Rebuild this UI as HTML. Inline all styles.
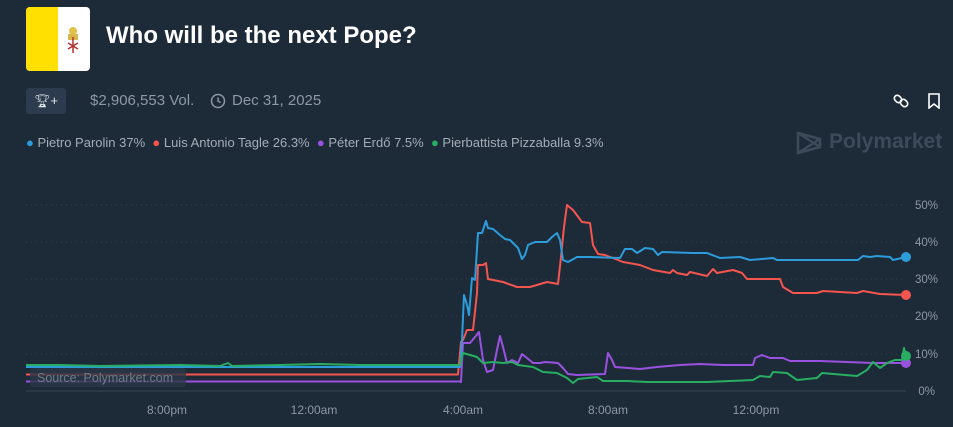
<!DOCTYPE html>
<html><head><meta charset="utf-8"><style>
body{margin:0;width:953px;height:427px;background:#1d2b39;font-family:"Liberation Sans",sans-serif;overflow:hidden;position:relative}
.abs{position:absolute}
</style></head><body>
<div class="abs" style="left:26px;top:7px;width:64px;height:64px;border-radius:4px;overflow:hidden;background:#fff">
<div style="width:32px;height:64px;background:#ffe000"></div>
<svg class="abs" style="left:37px;top:18px" width="20" height="30" viewBox="0 0 20 30"><circle cx="10" cy="6" r="4" fill="#e3c24a"/><rect x="5" y="9" width="10" height="6" fill="#d8b84a"/><path d="M10 12 V28 M5 18 L15 24 M15 18 L5 24" stroke="#b03030" stroke-width="1.5"/></svg>
</div>
<div class="abs" style="left:106px;top:22px;color:#fff;font-size:24px;font-weight:bold">Who will be the next Pope?</div>
<div class="abs" style="left:26px;top:88px;width:40px;height:26px;background:#2c3b4d;border-radius:3px;color:#dfe4ea;font-size:13px;line-height:26px;text-align:center">🏆︎+</div>
<div class="abs" style="left:90px;top:92px;color:#8d98a5;font-size:15px">$2,906,553 Vol.</div>
<svg class="abs" style="left:210px;top:93px" width="16" height="16"><circle cx="8" cy="8" r="6.5" fill="none" stroke="#8d98a5" stroke-width="1.5"/><path d="M8 4.5V8l2.5 1.5" stroke="#8d98a5" stroke-width="1.5" fill="none"/></svg>
<div class="abs" style="left:232px;top:92px;color:#8d98a5;font-size:15px">Dec 31, 2025</div>
<svg class="abs" style="left:893px;top:93px" width="16" height="16"><rect x="1" y="3" width="8" height="6" rx="3" fill="none" stroke="#fff" stroke-width="1.6" transform="rotate(45 5 6)"/><rect x="7" y="7" width="8" height="6" rx="3" fill="none" stroke="#fff" stroke-width="1.6" transform="rotate(45 11 10)"/></svg>
<svg class="abs" style="left:927px;top:93px" width="14" height="16"><path d="M2 1H12V15L7 11L2 15Z" fill="none" stroke="#fff" stroke-width="1.6"/></svg>
<div class="abs" style="left:26px;top:135px;color:#a3adb8;font-size:13px;white-space:nowrap">
<span style="color:#2d9cdb">●</span> Pietro Parolin 37%&nbsp; <span style="color:#f4554f">●</span> Luis Antonio Tagle 26.3%&nbsp; <span style="color:#9b51e0">●</span> Péter Erdő 7.5%&nbsp; <span style="color:#27ae60">●</span> Pierbattista Pizzaballa 9.3%</div>
<svg class="abs" style="left:796px;top:131px" width="26" height="24"><path d="M2 2L24 8V16L2 22ZM2 2L24 16M2 22L24 8" fill="none" stroke="#3c4a5a" stroke-width="2.5"/></svg>
<div class="abs" style="left:829px;top:130px;color:#3c4a5a;font-size:21px;font-weight:bold">Polymarket</div>
<svg class="abs" style="left:0;top:0" width="953" height="427">
<g stroke="#34414f" stroke-dasharray="1 4" stroke-width="1">
<line x1="26" x2="906" y1="205" y2="205"/><line x1="26" x2="906" y1="242" y2="242"/><line x1="26" x2="906" y1="279" y2="279"/><line x1="26" x2="906" y1="316" y2="316"/><line x1="26" x2="906" y1="354" y2="354"/></g>
<line x1="26" x2="906" y1="391" y2="391" stroke="#2e3c4b" stroke-width="1.5"/>
<g fill="#8d98a5" font-size="11.5" text-anchor="end" font-family="Liberation Sans,sans-serif">
<text x="938" y="209">50%</text><text x="938" y="246">40%</text><text x="938" y="283">30%</text><text x="938" y="320">20%</text><text x="938" y="358">10%</text><text x="935" y="395">0%</text></g>
<g fill="#8d98a5" font-size="12" text-anchor="middle" font-family="Liberation Sans,sans-serif">
<text x="167" y="414">8:00pm</text><text x="314" y="414">12:00am</text><text x="463" y="414">4:00am</text><text x="608" y="414">8:00am</text><text x="756" y="414">12:00pm</text></g>
<g fill="none" stroke-width="2" stroke-linejoin="round">
<polyline stroke="#9b51e0" points="26,381.5 460,381.5 461,382 463,343 470,343 475,337 479,332 483,360 487,372 493,370 497,350 500,336 503,347 507,363 512,360 518,363 522,354 527,358 533,363 540,363 545,362 558,363 563,368 568,374 577,375 605,374 608,353 612,360 615,367 640,369 657,367 680,365 700,364 723,365 753,365 755,358 762,355 770,358 783,358 790,361 820,361 873,363 906,363"/>
<polyline stroke="#f4554f" points="26,374.5 458,374.5 461,342 463,340 467,330 473,330 477,293 478,265 483,265 486,263 488,279 503,282 517,287 530,287 537,285 547,282 558,284 561,257 564,227 567,205 573,210 582,222 590,223 593,245 598,254 605,255 613,258 623,262 640,265 653,270 670,273 673,270 677,273 687,275 690,272 707,276 713,269 717,273 733,270 742,273 747,279 780,279 783,287 793,293 817,293 823,291 857,293 863,291 880,294 906,295"/>
<polyline stroke="#2d9cdb" points="26,367 460,367 462,340 464,295 467,305 469,315 472,278 475,280 478,233 482,233 486,221 488,228 493,229 500,235 505,239 510,240 513,243 518,248 522,259 525,255 528,245 535,242 547,242 552,237 557,233 560,240 563,260 568,262 577,257 590,257 620,258 625,249 632,249 637,253 645,248 653,249 658,255 662,252 693,253 707,253 720,258 740,257 750,260 773,258 777,260 858,260 863,256 870,257 877,256 890,257 893,260 906,257"/>
<polyline stroke="#27ae60" points="26,365 60,365 100,366 180,365 220,366 228,363 232,366 280,365 320,364 360,365 460,365 463,353 470,355 477,357 483,363 493,362 503,363 512,362 518,365 533,367 543,372 557,373 567,378 573,383 578,379 597,377 603,381 627,381 647,382 707,382 753,380 760,376 770,377 773,372 787,373 797,380 817,378 822,373 857,376 867,370 873,362 880,368 887,363 895,360 902,360 904,348 906,356"/>
</g>
<circle cx="906" cy="257" r="5" fill="#2d9cdb"/><circle cx="906" cy="295" r="5" fill="#f4554f"/><circle cx="906" cy="363" r="5" fill="#9b51e0"/><circle cx="906" cy="356" r="5" fill="#27ae60"/>
<rect x="30" y="368" width="156" height="19" rx="3" fill="#2a3746" opacity="0.8"/>
<text x="37" y="382" fill="#6f7b88" font-size="12.5" font-family="Liberation Sans,sans-serif">Source: Polymarket.com</text>
</svg>
</body></html>
